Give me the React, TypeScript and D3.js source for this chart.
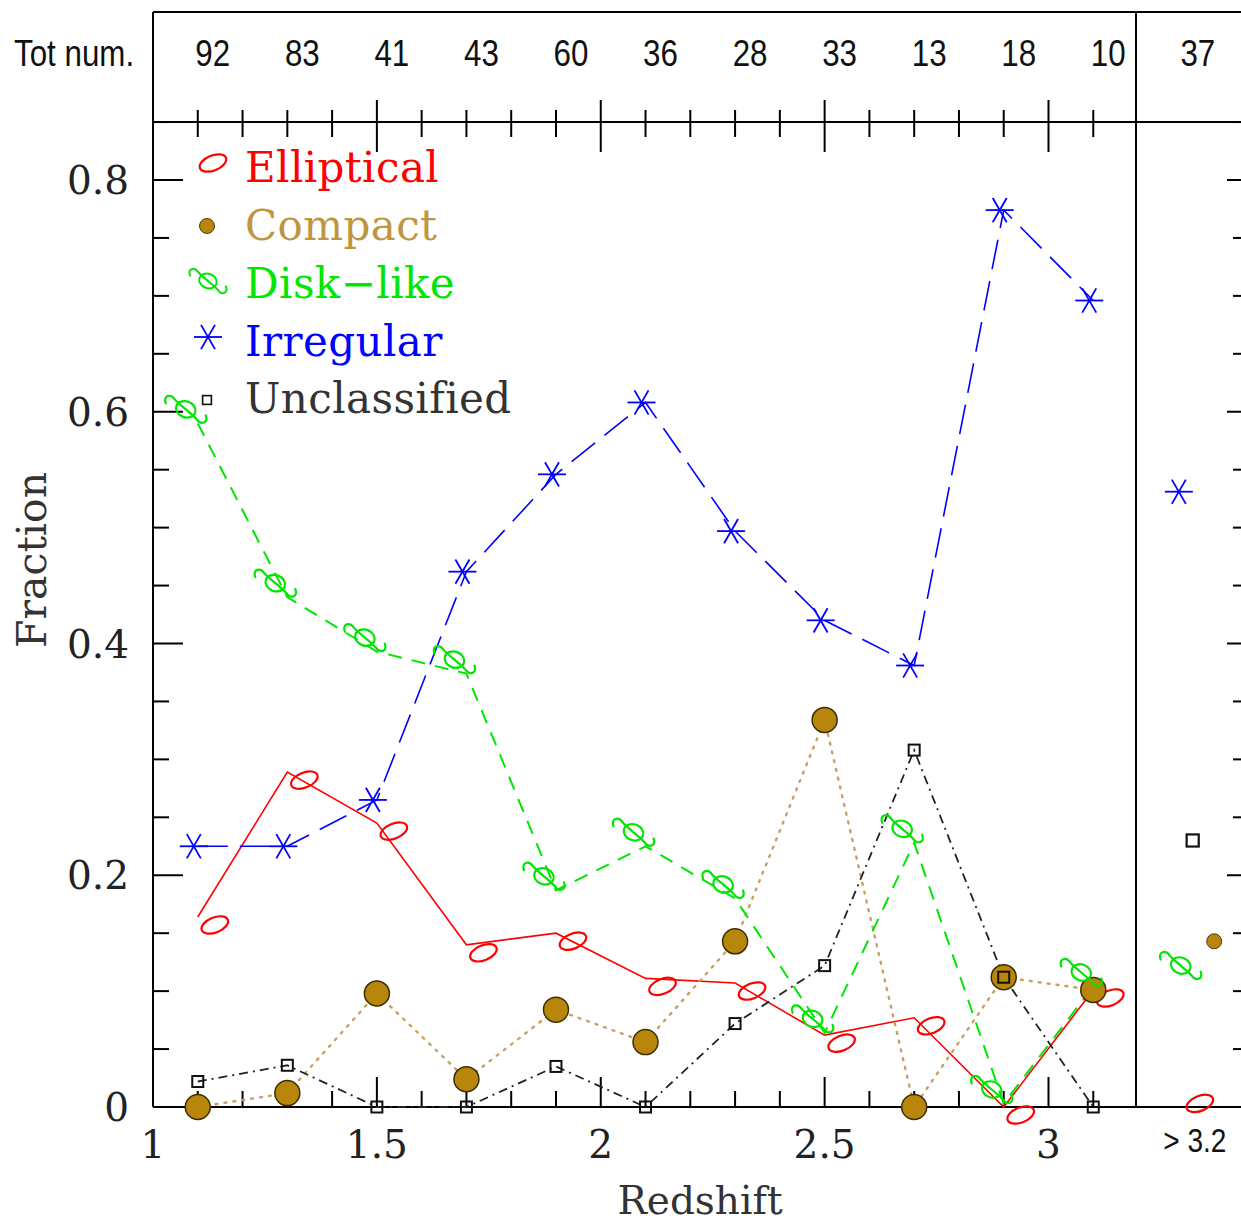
import React from "react";
import * as d3 from "d3";

// ---------------- data ----------------
const zBins = [1.1, 1.3, 1.5, 1.7, 1.9, 2.1, 2.3, 2.5, 2.7, 2.9, 3.1];
const totNum = [92, 83, 41, 43, 60, 36, 28, 33, 13, 18, 10];
const highZTot = 37;
const highZLabel = "> 3.2";
const highZBin = 3.3;

const elliptical = [0.164, 0.289, 0.245, 0.14, 0.15, 0.111, 0.107, 0.062, 0.077, 0.0, 0.101];
const compact = [0.0, 0.012, 0.098, 0.024, 0.084, 0.056, 0.143, 0.334, 0.0, 0.112, 0.101];
const diskLike = [0.59, 0.44, 0.393, 0.374, 0.187, 0.225, 0.18, 0.064, 0.228, 0.003, 0.104];
const irregular = [0.225, 0.225, 0.265, 0.462, 0.546, 0.608, 0.497, 0.42, 0.381, 0.774, 0.696];
const unclassified = [0.022, 0.036, 0.0, 0.0, 0.035, 0.0, 0.072, 0.122, 0.308, 0.112, 0.0];

// values for z > 3.2 (single points), with their plotted redshift positions
const highZValues = [0.01, 0.143, 0.11, 0.531, 0.23];
const highZPos = [3.3, 3.37, 3.322, 3.3, 3.322];

const seriesNames = ["Elliptical", "Compact", "Disk\u2212like", "Irregular", "Unclassified"];
const yTickLabels = ["0", "0.2", "0.4", "0.6", "0.8"];
const xTickLabels = ["1", "1.5", "2", "2.5", "3"];

// ---------------- layout / style ----------------
const W = 1241;
const H = 1225;
const X0 = 153;
const Y0 = 1107;
const TOP = 12;
const MID = 122;
const SPLIT = 1136;
const RIGHT = 1241;

const serif = "'DejaVu Serif', serif";
const sans = "'Liberation Sans', Arial, sans-serif";

type MarkerKind = "ellipse" | "circle" | "disk" | "star" | "square";

const styles: {
  color: string;
  text: string;
  dash: string;
  width: number;
  marker: MarkerKind;
  dx: number;
  dy: number;
}[] = [
  { color: "#ff0000", text: "#ff0000", dash: "none", width: 1.6, marker: "ellipse", dx: 17, dy: 8 },
  { color: "#c9a063", text: "#c0953f", dash: "2,7", width: 2.4, marker: "circle", dx: 0, dy: 0 },
  { color: "#00e600", text: "#00e600", dash: "14,10", width: 2, marker: "disk", dx: -12, dy: -14 },
  { color: "#0000ff", text: "#0000ff", dash: "30,12", width: 1.6, marker: "star", dx: -4, dy: 0 },
  { color: "#222222", text: "#333333", dash: "9,5,2,5", width: 1.8, marker: "square", dx: 0, dy: 0 },
];

const seriesValues = [elliptical, compact, diskLike, irregular, unclassified];

function Marker({ kind, x, y, color, scale = 1 }: { kind: MarkerKind; x: number; y: number; color: string; scale?: number }) {
  const t = `translate(${x},${y}) scale(${scale})`;
  if (kind === "ellipse") {
    return (
      <g transform={t}>
        <ellipse cx={0} cy={0} rx={14} ry={7.5} transform="rotate(-22)" fill="none" stroke={color} strokeWidth={2.2} />
      </g>
    );
  }
  if (kind === "circle") {
    return (
      <g transform={t}>
        <circle cx={0} cy={0} r={12.5} fill="#b8860b" stroke="#3b2c05" strokeWidth={1.5} />
      </g>
    );
  }
  if (kind === "disk") {
    return (
      <g transform={t} fill="none" stroke={color} strokeWidth={2.2} strokeLinecap="round">
        <ellipse cx={0} cy={0} rx={10} ry={8} transform="rotate(20)" />
        <path d="M -20 -6 C -23 -14, -15 -16, -11 -10 C -6 -4, 6 4, 11 10 C 15 16, 23 14, 20 6" />
      </g>
    );
  }
  if (kind === "star") {
    const r = 14;
    const a = Math.PI / 3;
    return (
      <g transform={t} stroke={color} strokeWidth={1.8}>
        <line x1={-r} y1={0} x2={r} y2={0} />
        <line x1={-r * Math.cos(a)} y1={-r * Math.sin(a)} x2={r * Math.cos(a)} y2={r * Math.sin(a)} />
        <line x1={r * Math.cos(a)} y1={-r * Math.sin(a)} x2={-r * Math.cos(a)} y2={r * Math.sin(a)} />
      </g>
    );
  }
  return (
    <g transform={t}>
      <rect x={-5.5} y={-5.5} width={11} height={11} fill="none" stroke="#111" strokeWidth={2} />
    </g>
  );
}

export default function App() {
  const x = d3.scaleLinear().domain([1, 3]).range([X0, 1048.5]);
  const y = d3.scaleLinear().domain([0, 0.8]).range([Y0, 180]);

  const line = d3
    .line<number>()
    .x((_, i) => x(zBins[i]))
    .y((d) => y(d));

  const xMinor = d3.range(11, 32).map((v) => v / 10);
  const isXMajor = (v: number) => Math.abs(v * 2 - Math.round(v * 2)) < 1e-6;
  const yTicks = d3.range(1, 18).map((v) => v * 0.05);
  const isYMajor = (v: number) => Math.abs(v * 5 - Math.round(v * 5)) < 1e-6;

  const legendY = [163, 226, 281, 337, 400];
  const legendTextY = [182, 240, 298, 356, 413];
  const legendMX = [213, 207, 208, 208, 207];

  return (
    <svg
      width={W}
      height={H}
      viewBox={`0 0 ${W} ${H}`}
      style={{ position: "absolute", left: 0, top: 0, background: "#fff" }}
    >
      <rect x={0} y={0} width={W} height={H} fill="#fff" />

      {/* frame */}
      <g stroke="#000" strokeWidth={2} fill="none">
        <line x1={X0} y1={TOP} x2={RIGHT} y2={TOP} />
        <line x1={X0} y1={MID} x2={RIGHT} y2={MID} />
        <line x1={X0} y1={TOP} x2={X0} y2={Y0} />
        <line x1={SPLIT} y1={TOP} x2={SPLIT} y2={Y0} />
        <line x1={X0} y1={Y0} x2={RIGHT} y2={Y0} />
      </g>

      {/* x ticks top and bottom */}
      <g stroke="#000" strokeWidth={2}>
        {xMinor.map((v) => {
          const major = isXMajor(v);
          const px = x(v);
          return (
            <g key={`xt${v}`}>
              <line x1={px} y1={MID - (major ? 22 : 12)} x2={px} y2={MID + (major ? 30 : 15)} />
              <line x1={px} y1={Y0} x2={px} y2={Y0 - (major ? 30 : 16)} />
            </g>
          );
        })}
      </g>

      {/* y ticks left and right */}
      <g stroke="#000" strokeWidth={2}>
        {yTicks.map((v) => {
          const major = isYMajor(v);
          const py = y(v);
          return (
            <g key={`yt${v}`}>
              <line x1={X0} y1={py} x2={X0 + (major ? 30 : 16)} y2={py} />
              <line x1={RIGHT} y1={py} x2={RIGHT - (major ? 14 : 8)} y2={py} />
            </g>
          );
        })}
      </g>

      {/* y tick labels */}
      <g fontFamily={serif} fontSize={39} fill="#222" textAnchor="end">
        {yTickLabels.map((t) => (
          <text key={`yl${t}`} x={129} y={y(+t) + 14}>
            {t}
          </text>
        ))}
      </g>

      {/* x tick labels */}
      <g fontFamily={serif} fontSize={39} fill="#222" textAnchor="middle">
        {xTickLabels.map((t) => (
          <text key={`xl${t}`} x={x(+t)} y={1158}>
            {t}
          </text>
        ))}
      </g>
      <g transform={`translate(${x(highZBin) + 12},1152) scale(0.85,1)`}>
        <text x={0} y={0} fontFamily={sans} fontSize={33} fill="#111" textAnchor="middle">
          {highZLabel}
        </text>
      </g>

      {/* axis titles */}
      <text x={700} y={1214} fontFamily={serif} fontSize={39} fill="#333" textAnchor="middle">
        Redshift
      </text>
      <text
        transform="translate(46,560) rotate(-90)"
        fontFamily={serif}
        fontSize={41}
        fill="#333"
        textAnchor="middle"
      >
        Fraction
      </text>

      {/* top panel counts */}
      <g transform="translate(14,66) scale(0.87,1)">
        <text x={0} y={0} fontFamily={sans} fontSize={36} fill="#111">
          Tot num.
        </text>
      </g>
      {totNum.map((n, i) => (
        <g key={`tn${i}`} transform={`translate(${x(zBins[i]) + 15},66) scale(0.87,1)`}>
          <text x={0} y={0} fontFamily={sans} fontSize={36} fill="#111" textAnchor="middle">
            {n}
          </text>
        </g>
      ))}
      <g transform={`translate(${x(highZBin) + 15},66) scale(0.87,1)`}>
        <text x={0} y={0} fontFamily={sans} fontSize={36} fill="#111" textAnchor="middle">
          {highZTot}
        </text>
      </g>

      {/* series lines */}
      {seriesValues.map((vals, s) => (
        <path
          key={`ln${s}`}
          d={line(vals) || ""}
          fill="none"
          stroke={styles[s].color}
          strokeWidth={styles[s].width}
          strokeDasharray={styles[s].dash}
          strokeLinecap={s === 1 ? "round" : "butt"}
        />
      ))}

      {/* series markers */}
      {seriesValues.map((vals, s) => (
        <g key={`mk${s}`}>
          {vals.map((v, i) => (
            <Marker
              key={i}
              kind={styles[s].marker}
              x={x(zBins[i]) + styles[s].dx}
              y={y(v) + styles[s].dy}
              color={styles[s].color}
            />
          ))}
          <Marker
            kind={styles[s].marker}
            x={x(highZPos[s]) + styles[s].dx}
            y={y(highZValues[s]) + styles[s].dy}
            color={styles[s].color}
            scale={s === 1 ? 0.6 : s === 4 ? 1.1 : 1}
          />
        </g>
      ))}

      {/* legend */}
      {seriesNames.map((name, s) => (
        <g key={`lg${s}`}>
          <Marker
            kind={styles[s].marker}
            x={legendMX[s]}
            y={legendY[s]}
            color={styles[s].color}
            scale={s === 1 ? 0.6 : s === 4 ? 0.8 : s === 2 ? 0.9 : 1}
          />
          <text x={245} y={legendTextY[s]} fontFamily={serif} fontSize={42} fill={styles[s].text} letterSpacing={0.4}>
            {name}
          </text>
        </g>
      ))}
    </svg>
  );
}
